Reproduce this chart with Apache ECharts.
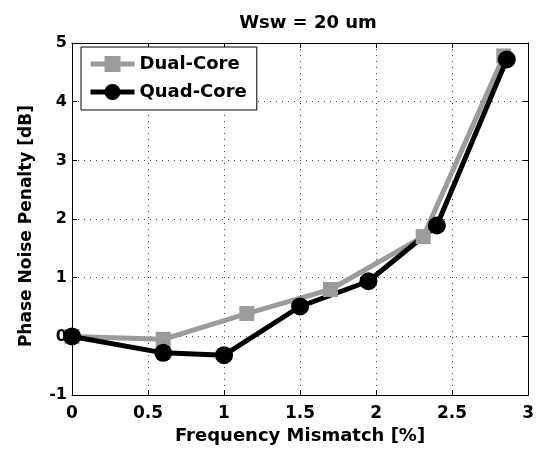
<!DOCTYPE html>
<html>
<head>
<meta charset="utf-8">
<script src="https://cdn.jsdelivr.net/npm/echarts@6/dist/echarts.min.js"></script>
<style>
  html, body { margin: 0; padding: 0; background: #fff; }
  #chart { width: 537px; height: 450px; }
</style>
</head>
<body>
<div id="chart"></div>
<script>
// Phase noise penalty vs. frequency mismatch, Wsw = 20 um
const dualX = [0, 0.6, 1.15, 1.7, 2.31, 2.84];
const dualY = [0, -0.05, 0.39, 0.80, 1.70, 4.78];
const quadX = [0, 0.6, 1.0, 1.5, 1.95, 2.40, 2.86];
const quadY = [0, -0.28, -0.32, 0.51, 0.94, 1.89, 4.72];

const FONT = 'DejaVu Sans, Liberation Sans, sans-serif';

function pairs(xs, ys) {
  return xs.map((x, i) => [x, ys[i]]);
}

const chart = echarts.init(document.getElementById('chart'), null, { renderer: 'canvas' });

const tickStyle = { show: true, inside: true, length: 5, lineStyle: { color: '#000', width: 1 } };
const frameLine = { show: true, onZero: false, lineStyle: { color: '#000', width: 1 } };
const gridDots = { show: true, lineStyle: { color: '#444', width: 1, type: [1, 5] } };

chart.setOption({
  animation: false,
  backgroundColor: '#fff',
  title: {
    text: 'Wsw = 20 um',
    left: 303,
    textAlign: 'center',
    top: 9,
    textStyle: { fontFamily: FONT, fontSize: 18, fontWeight: 'bold', color: '#000' }
  },
  grid: { left: 72, right: 5, top: 43, bottom: 53, containLabel: false },
  legend: {
    orient: 'vertical',
    left: 81,
    top: 47,
    padding: [8, 10, 9, 7],
    itemWidth: 44,
    itemHeight: 20,
    itemGap: 10,
    backgroundColor: '#fff',
    borderColor: '#000',
    borderWidth: 1,
    borderRadius: 0,
    lineStyle: { width: 5 },
    textStyle: { fontFamily: FONT, fontSize: 18, fontWeight: 'bold', color: '#000', padding: [0, 0, 0, 0] },
    data: [
      { name: 'Dual-Core', lineStyle: { width: 5, color: '#9b9b9b' } },
      { name: 'Quad-Core', lineStyle: { width: 5, color: '#000' } }
    ]
  },
  xAxis: [
    {
      type: 'value', min: 0, max: 3, interval: 0.5,
      name: 'Frequency Mismatch [%]', nameLocation: 'middle', nameGap: 29,
      nameTextStyle: { fontFamily: FONT, fontSize: 18, fontWeight: 'bold', color: '#000' },
      axisLine: frameLine, axisTick: tickStyle,
      axisLabel: { margin: 10, fontFamily: FONT, fontSize: 17, fontWeight: 'bold', color: '#000' },
      splitLine: gridDots
    },
    {
      type: 'value', min: 0, max: 3, interval: 0.5, position: 'top',
      axisLine: frameLine, axisTick: tickStyle, axisLabel: { show: false }, splitLine: { show: false }
    }
  ],
  yAxis: [
    {
      type: 'value', min: -1, max: 5, interval: 1,
      name: 'Phase Noise Penalty [dB]', nameLocation: 'middle', nameGap: 37,
      nameTextStyle: { fontFamily: FONT, fontSize: 17, fontWeight: 'bold', color: '#000', padding: [0, 14, 0, 0] },
      axisLine: frameLine, axisTick: tickStyle,
      axisLabel: { margin: 5, fontFamily: FONT, fontSize: 16, fontWeight: 'bold', color: '#000' },
      splitLine: gridDots
    },
    {
      type: 'value', min: -1, max: 5, interval: 1, position: 'right',
      axisLine: frameLine, axisTick: tickStyle, axisLabel: { show: false }, splitLine: { show: false }
    }
  ],
  series: [
    {
      name: 'Dual-Core',
      type: 'line',
      data: pairs(dualX, dualY),
      clip: false,
      symbol: 'rect',
      symbolSize: 15,
      itemStyle: { color: '#9b9b9b' },
      lineStyle: { color: '#9b9b9b', width: 5 },
      emphasis: { disabled: true }
    },
    {
      name: 'Quad-Core',
      type: 'line',
      data: pairs(quadX, quadY),
      clip: false,
      symbol: 'circle',
      symbolSize: 18,
      itemStyle: { color: '#000' },
      lineStyle: { color: '#000', width: 5 },
      emphasis: { disabled: true }
    }
  ]
});
</script>
</body>
</html>
